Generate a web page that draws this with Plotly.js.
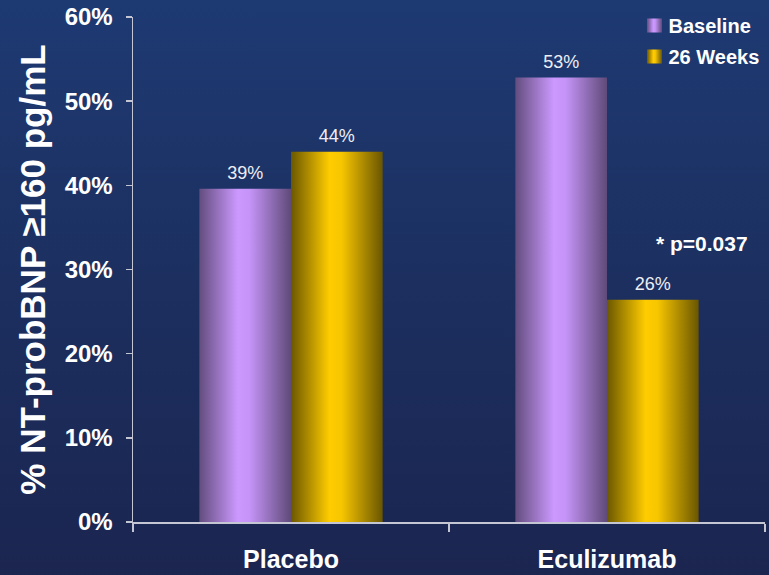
<!DOCTYPE html>
<html>
<head>
<meta charset="utf-8">
<script src="https://cdn.plot.ly/plotly-3.0.1.min.js"></script>
<style>
html,body{margin:0;padding:0;}
body{width:769px;height:575px;background:linear-gradient(to bottom,#1e3a73 0%,#1c2f5f 50%,#1b2550 100%);overflow:hidden;}
#chart{width:769px;height:575px;}
</style>
</head>
<body>
<svg width="0" height="0" style="position:absolute">
  <defs>
    <linearGradient id="gPurple" x1="0" y1="0" x2="1" y2="0">
      <stop offset="0" stop-color="#634d7e"/>
      <stop offset="0.42" stop-color="#cc99ff"/>
      <stop offset="0.55" stop-color="#c594f7"/>
      <stop offset="1" stop-color="#5f4a79"/>
    </linearGradient>
    <linearGradient id="gGold" x1="0" y1="0" x2="1" y2="0">
      <stop offset="0" stop-color="#6b5700"/>
      <stop offset="0.42" stop-color="#ffcc00"/>
      <stop offset="0.55" stop-color="#f8c600"/>
      <stop offset="1" stop-color="#6a5600"/>
    </linearGradient>
  </defs>
</svg>
<div id="chart"></div>
<script>
const categories = ["Placebo", "Eculizumab"];
const seriesNames = ["Baseline", "26 Weeks"];
const baselineValues = [39.6, 52.8];
const week26Values = [44.0, 26.4];
const baselineLabels = ["39%", "53%"];
const week26Labels = ["44%", "26%"];
const yTickVals = [0, 10, 20, 30, 40, 50, 60];
const yTickText = ["0%", "10%", "20%", "30%", "40%", "50%", "60%"];
const pValueText = "* p=0.037";

const labelFont = {family: "Liberation Sans, Arial, sans-serif", size: 18, color: "#eeeef4"};

const traces = [
  {type: "bar", name: seriesNames[0], legendgroup: "a", x: categories, y: baselineValues,
   text: baselineLabels, textposition: "outside", textfont: labelFont,
   marker: {color: "#b088e0", line: {width: 0}}, cliponaxis: false, hoverinfo: "none"},
  {type: "bar", name: seriesNames[1], legendgroup: "b", x: categories, y: week26Values,
   text: week26Labels, textposition: "outside", textfont: labelFont,
   marker: {color: "#e0b400", line: {width: 0}}, cliponaxis: false, hoverinfo: "none"}
];

const axisColor = "#c4c6d4";
const layout = {
  width: 769, height: 575,
  margin: {l: 133, r: 4, t: 17, b: 53, autoexpand: false},
  paper_bgcolor: "rgba(0,0,0,0)",
  plot_bgcolor: "rgba(0,0,0,0)",
  barmode: "group", bargap: 0.42, bargroupgap: 0,
  showlegend: true,
  legend: {x: 0.784, xanchor: "left", y: 1.022, yanchor: "top",
    font: {family: "Liberation Sans, Arial, sans-serif", size: 20, color: "#ffffff", weight: "bold"},
    bgcolor: "rgba(0,0,0,0)", itemwidth: 30, traceorder: "grouped", tracegroupgap: 2},
  xaxis: {type: "category", automargin: false, showline: true, linecolor: axisColor, linewidth: 1.5,
    ticks: "outside", tickson: "boundaries", ticklen: 8, tickcolor: axisColor, tickwidth: 1.5,
    showgrid: false, zeroline: false, ticklabelstandoff: 14,
    tickfont: {family: "Liberation Sans, Arial, sans-serif", size: 25, color: "#ffffff", weight: "bold"}},
  yaxis: {range: [0, 60], automargin: false, tickvals: yTickVals, ticktext: yTickText,
    showline: true, linecolor: axisColor, linewidth: 1.5,
    ticks: "outside", ticklen: 6, tickcolor: axisColor, tickwidth: 1.5,
    showgrid: false, zeroline: false, ticklabelstandoff: 8,
    tickfont: {family: "Liberation Sans, Arial, sans-serif", size: 24, color: "#ffffff", weight: "bold"},
    title: {text: "% NT-probBNP ≥160 pg/mL", standoff: 8,
      font: {family: "Liberation Sans, Arial, sans-serif", size: 35, color: "#ffffff", weight: "bold"}}},
  annotations: [{text: pValueText, xref: "paper", yref: "y", x: 0.901, y: 33.1,
    showarrow: false, xanchor: "center", yanchor: "middle",
    font: {family: "Liberation Sans, Arial, sans-serif", size: 21, color: "#ffffff", weight: "bold"}}]
};

const gd = document.getElementById("chart");
Plotly.newPlot(gd, traces, layout, {staticPlot: true, displayModeBar: false}).then(function () {
  const fills = ["url(#gPurple)", "url(#gGold)"];
  gd.querySelectorAll(".barlayer .trace").forEach(function (tr, i) {
    tr.querySelectorAll(".point path").forEach(function (p) { p.style.fill = fills[i]; });
    tr.querySelectorAll("text.bartext").forEach(function (t) {
      const tf = t.getAttribute("transform") || "";
      t.setAttribute("transform", "translate(0,-3) " + tf);
    });
  });
  gd.querySelectorAll(".legend .traces").forEach(function (tr, i) {
    tr.querySelectorAll(".legendpoints path").forEach(function (p) {
      p.style.fill = fills[i];
      p.setAttribute("d", "M13.5,7H-1.5V-7H13.5Z");
    });
  });
});
</script>
</body>
</html>
